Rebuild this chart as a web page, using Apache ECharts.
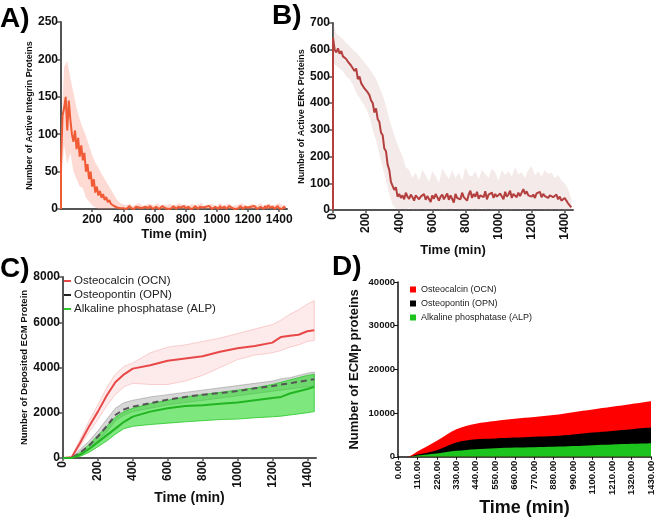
<!DOCTYPE html>
<html><head><meta charset="utf-8">
<script src="https://cdn.jsdelivr.net/npm/echarts@6/dist/echarts.min.js"></script>
<style>html,body{margin:0;padding:0;background:#fff}#c{width:656px;height:518px}</style>
</head><body><div id="c"></div>
<script>
// ---------- DATA ----------
// Panel A: active integrin (sampled every 10 min from 0 to 1440)
const integrinMean = [60,125,135,150,105,145,120,100,90,105,80,95,70,85,65,75,50,60,40,50,30,40,22,30,18,24,15,20,12,16,9,12,7,8,4,5,2,3,1,2,
1,3,0,2,4,1,2,0,3,1,2,4,1,0,3,2,1,4,2,0,1,3,2,0,1,4,2,1,3,0,2,1,4,2,0,3,1,2,0,4,1,2,3,0,2,1,4,2,0,3,
1,2,0,3,1,4,2,0,1,3,2,0,4,1,2,3,0,1,4,2,1,3,0,2,1,4,2,0,3,1,2,0,3,1,4,2,0,1,3,2,0,4,1,5,2,1,3,0,2,4,1,2,0,3,1];
// Panel A band (every 20 min)
const integrinHi = [90,190,198,175,155,135,120,108,98,85,72,62,55,47,40,33,26,19,12,8,6,
5,7,4,6,8,5,4,7,6,5,8,4,6,5,7,4,6,8,5,6,4,7,5,6,8,4,5,7,6,4,8,5,6,7,4,5,6,8,5,4,7,6,5,8,4,6,7,5,6,8,5,6];
const integrinLo = [30,85,60,75,50,40,30,28,15,10,5,2,0,0,0,0,0,0,0,0,0,
0,0,0,0,0,0,0,0,0,0,0,0,0,0,0,0,0,0,0,0,0,0,0,0,0,0,0,0,0,0,0,0,0,0,0,0,0,0,0,0,0,0,0,0,0,0,0,0,0,0,0,0];
// Panel B: active ERK (every 10 min)
const erkMean = [645,600,590,605,585,595,575,580,565,555,560,540,545,520,530,490,500,475,480,455,460,440,430,410,400,365,380,340,330,290,280,230,220,170,150,105,110,75,85,50,60,
45,55,40,65,50,42,58,48,35,55,62,40,50,45,60,38,52,47,30,55,42,60,48,35,50,58,40,45,62,38,
55,50,28,60,45,52,40,65,48,55,35,58,72,45,60,50,68,42,55,62,48,70,40,58,52,65,45,60,50,48,
62,55,40,68,50,58,72,45,60,55,48,65,52,58,78,60,70,55,62,50,58,45,62,55,68,48,60,52,58,45,
55,62,48,52,58,40,50,35,30,45,38,25,20,10];
// Panel B band (every 20 min)
const erkHi = [700,660,650,640,625,615,600,590,575,560,545,530,510,490,460,430,390,340,300,260,230,200,160,150,
120,140,110,150,130,105,145,125,100,155,135,115,150,120,140,110,160,130,125,145,115,150,135,120,155,140,110,150,130,145,
125,160,135,140,120,150,165,130,145,125,150,135,140,120,130,110,100,80,40];
const erkLo = [550,540,530,520,500,490,470,440,420,400,380,350,300,260,210,160,110,60,20,5,
0,5,0,8,0,3,0,6,0,4,0,7,0,2,0,5,0,8,0,3,0,6,0,4,0,9,0,5,0,2,0,7,0,3,0,6,0,8,0,4,0,5,0,7,0,3,0,6,0,4,0,2,0];
// Panel C: deposited ECM proteins
const cTimes = [0,50,100,150,200,250,300,350,400,500,600,700,800,900,1000,1100,1200,1250,1300,1350,1400,1440];
const ocnMean = [0,30,700,1400,2050,2750,3350,3700,3950,4100,4300,4400,4500,4700,4850,4950,5100,5350,5400,5450,5600,5650];
const ocnHi   = [0,60,850,1650,2350,3100,3700,4050,4200,4650,4900,5000,5150,5300,5500,5700,5900,6100,6350,6550,6800,6950];
const ocnLo   = [0,0,550,1150,1700,2300,2800,3150,3300,3250,3250,3400,3650,4000,4350,4550,4650,4750,4900,5000,5150,5200];
const opnMean = [0,0,250,550,950,1400,1900,2150,2270,2420,2580,2700,2800,2870,2960,3080,3180,3250,3300,3370,3430,3480];
const opnHi   = [0,0,400,750,1200,1700,2200,2450,2550,2700,2800,2900,3000,3100,3200,3300,3400,3500,3550,3650,3750,3800];
const opnLo   = [0,0,150,400,750,1150,1650,1900,2050,2200,2350,2450,2550,2650,2750,2850,2950,3000,3050,3100,3150,3200];
const alpMean = [0,0,150,400,700,1000,1300,1600,1830,2050,2200,2300,2330,2400,2450,2550,2650,2700,2850,2950,3050,3150];
const alpHi   = [0,0,250,600,1000,1400,1800,2050,2200,2400,2550,2700,2800,2900,3000,3100,3250,3350,3450,3550,3650,3700];
const alpLo   = [0,0,80,250,500,750,1050,1300,1400,1480,1540,1600,1650,1700,1720,1780,1820,1850,1900,1950,2000,2050];
// Panel D: stacked ECMp proteins (layer amounts)
const dTimes = [0,50,110,220,330,440,550,660,770,880,990,1100,1210,1320,1430];
const dAlp = [0,0,300,760,1360,1740,1950,2120,2200,2270,2450,2650,2800,2950,3100];
const dOpn = [0,0,200,755,1890,2260,2250,2270,2400,2500,2650,2880,3100,3350,3570];
const dOcn = [0,0,700,2125,3040,3580,4000,4320,4500,4775,5100,5300,5550,5800,6060];
const names = ['Osteocalcin (OCN)','Osteopontin (OPN)','Alkaline phosphatase (ALP)'];

// ---------- HELPERS ----------
const FONT = 'Liberation Sans, Arial, sans-serif';
const grid10 = integrinMean.map((_, i) => i * 10);
const grid20 = integrinHi.map((_, i) => i * 20);
const pairs = (t, v) => v.map((y, i) => [t[i], y]);
const plain = v => String(v);

// shaded band between lo and hi, drawn as one polygon through the axis scales
function bandSeries(id, t, lo, hi, xi, fill, edge) {
  return {
    type:'custom', name:id, xAxisIndex:xi, yAxisIndex:xi, silent:true, z:1,
    data:pairs(t, hi), encode:{x:0, y:1},
    renderItem:(params, api) => {
      if (params.dataIndex !== 0) return null;
      const up = t.map((x, i) => api.coord([x, hi[i]]));
      const dn = t.map((x, i) => api.coord([x, lo[i]])).reverse();
      return {
        type:'polygon', shape:{points:up.concat(dn)},
        style:{fill:fill, stroke:edge || null, lineWidth:edge ? 1 : 0},
        clipPath:{type:'rect', shape:{x:params.coordSys.x, y:params.coordSys.y,
                  width:params.coordSys.width, height:params.coordSys.height}}
      };
    }
  };
}
function cumulative(...layers) {
  return layers[0].map((_, i) => layers.reduce((s, l) => s + l[i], 0));
}
function xAx(gi, o) {
  return Object.assign({
    gridIndex:gi, type:'value', min:0, max:1450, interval:200,
    axisLine:{show:true, onZero:false, lineStyle:{color:'#555', width:2}},
    axisTick:{show:true, length:3, lineStyle:{color:'#555', width:1.5}},
    splitLine:{show:false},
    name:'Time (min)', nameLocation:'middle',
    nameTextStyle:{color:'#111', fontWeight:'bold', fontSize:13, fontFamily:FONT}
  }, o);
}
function yAx(gi, o) {
  return Object.assign({
    gridIndex:gi, type:'value',
    axisLine:{show:true, lineStyle:{color:'#555', width:2}},
    axisTick:{show:true, length:4, lineStyle:{color:'#555', width:1.5}},
    axisLabel:{color:'#111', fontWeight:'bold', fontSize:12, fontFamily:FONT, margin:3, formatter:plain},
    splitLine:{show:false}, nameLocation:'middle',
    nameTextStyle:{color:'#111', fontWeight:'bold', fontSize:9, fontFamily:FONT}
  }, o);
}

const dTotalOpn = cumulative(dAlp, dOpn);
const dTotalOcn = cumulative(dAlp, dOpn, dOcn);

const chart = echarts.init(document.getElementById('c'), null, {renderer:'canvas'});
const series = [
  // A
  bandSeries('bA', grid20, integrinLo, integrinHi, 0, 'rgba(248,150,130,0.35)'),
  {type:'line', name:'Integrin', xAxisIndex:0, yAxisIndex:0, data:[[0,0], ...pairs(grid10, integrinMean)], symbol:'none',
   lineStyle:{color:'#f05a35', width:2}, z:3},
  // B
  bandSeries('bB', grid20, erkLo, erkHi, 1, 'rgba(205,160,160,0.22)'),
  {type:'line', name:'ERK', xAxisIndex:1, yAxisIndex:1, data:[[0,0], ...pairs(grid10, erkMean)], symbol:'none',
   lineStyle:{color:'#b3403f', width:2}, z:3},
  // C bands
  bandSeries('bOCN', cTimes, ocnLo, ocnHi, 2, 'rgba(240,120,120,0.15)', 'rgba(240,130,130,0.35)'),
  bandSeries('bOPN', cTimes, opnLo, opnHi, 2, 'rgba(140,140,140,0.35)', 'rgba(140,140,140,0.5)'),
  bandSeries('bALP', cTimes, alpLo, alpHi, 2, 'rgba(40,215,40,0.6)', 'rgba(40,200,40,0.8)'),
  // C lines
  {type:'line', name:names[0], xAxisIndex:2, yAxisIndex:2, data:pairs(cTimes, ocnMean), symbol:'none', color:'#e84848',
   lineStyle:{color:'#e84848', width:2}, z:4},
  {type:'line', name:names[1], xAxisIndex:2, yAxisIndex:2, data:pairs(cTimes, opnMean), symbol:'none', color:'#222',
   lineStyle:{color:'#555', width:2, type:[6,4]}, z:4},
  {type:'line', name:names[2], xAxisIndex:2, yAxisIndex:2, data:pairs(cTimes, alpMean), symbol:'none', color:'#2cc82c',
   lineStyle:{color:'#22b422', width:2}, z:4},
  // D stacked (cumulative tops, drawn back to front)
  {type:'line', name:names[0]+' ', xAxisIndex:3, yAxisIndex:3, data:pairs(dTimes, dTotalOcn), symbol:'none', smooth:0.35,
   color:'#ff0000', lineStyle:{width:0}, areaStyle:{color:'#ff0000', opacity:1}, z:2},
  {type:'line', name:names[1]+' ', xAxisIndex:3, yAxisIndex:3, data:pairs(dTimes, dTotalOpn), symbol:'none', smooth:0.35,
   color:'#000', lineStyle:{width:0}, areaStyle:{color:'#000', opacity:1}, z:3},
  {type:'line', name:names[2]+' ', xAxisIndex:3, yAxisIndex:3, data:pairs(dTimes, dAlp), symbol:'none', smooth:0.35,
   color:'#1ec41e', lineStyle:{width:0}, areaStyle:{color:'#1ec41e', opacity:1}, z:4}
];

const xLab = (o) => Object.assign({color:'#111', fontWeight:'bold', fontSize:12, fontFamily:FONT, margin:4,
                                   showMaxLabel:false, formatter:plain}, o);

chart.setOption({
  animation:false,
  backgroundColor:'#fff',
  textStyle:{fontFamily:FONT},
  grid:[
    {left:61, top:22, width:226, height:187},
    {left:333, top:23, width:240, height:187},
    {left:63, top:277, width:253, height:181},
    {left:398, top:282, width:254, height:176}
  ],
  xAxis:[
    xAx(0, {nameGap:19, axisLabel:xLab({margin:5, showMinLabel:false})}),
    xAx(1, {nameGap:30, axisLabel:xLab({margin:3, rotate:90})}),
    xAx(2, {nameGap:28, nameTextStyle:{color:'#111', fontWeight:'bold', fontSize:14, fontFamily:FONT},
            axisLabel:xLab({margin:3, rotate:90})}),
    xAx(3, {max:1430, interval:110, nameGap:40,
            axisLine:{show:true, onZero:false, lineStyle:{color:'#111', width:1.5}},
            axisTick:{show:true, length:3, lineStyle:{color:'#111', width:1}},
            nameTextStyle:{color:'#111', fontWeight:'bold', fontSize:18, fontFamily:FONT},
            axisLabel:xLab({fontSize:9.5, margin:4, rotate:90, showMaxLabel:true, formatter:v => v.toFixed(2)})})
  ],
  yAxis:[
    yAx(0, {min:0, max:250, interval:50, name:'Number of Active Integrin Proteins', nameGap:21}),
    yAx(1, {min:0, max:700, interval:100, name:'Number of Active ERK Proteins', nameGap:26}),
    yAx(2, {min:0, max:8000, interval:2000, name:'Number of Deposited ECM Protein', nameGap:27,
            nameTextStyle:{color:'#111', fontWeight:'bold', fontSize:9.5, fontFamily:FONT}}),
    yAx(3, {min:0, max:40000, interval:10000, name:'Number of ECMp proteins', nameGap:37,
            axisLine:{show:true, lineStyle:{color:'#111', width:1.5}},
            axisTick:{show:true, length:4, lineStyle:{color:'#111', width:1}},
            axisLabel:{color:'#111', fontWeight:'bold', fontSize:9.5, fontFamily:FONT, margin:3, formatter:plain},
            nameTextStyle:{color:'#111', fontWeight:'bold', fontSize:13, fontFamily:FONT}})
  ],
  legend:[
    {data:names, left:59, top:270, orient:'vertical', icon:'rect', itemWidth:7, itemHeight:2, itemGap:2,
     textStyle:{fontSize:11.5, color:'#222', fontFamily:FONT, padding:[0,0,0,-2]}, selectedMode:false},
    {data:names.map(n => n + ' '), left:405, top:280, orient:'vertical', icon:'rect', itemWidth:6, itemHeight:6, itemGap:5,
     textStyle:{fontSize:9, color:'#222', fontFamily:FONT}, selectedMode:false, formatter:n => n.trim()}
  ],
  graphic:[
    {type:'text', left:0, top:5, style:{text:'A)', font:'bold 28px '+FONT, fill:'#000'}},
    {type:'text', left:272, top:2, style:{text:'B)', font:'bold 28px '+FONT, fill:'#000'}},
    {type:'text', left:0, top:255, style:{text:'C)', font:'bold 28px '+FONT, fill:'#000'}},
    {type:'text', left:332, top:253, style:{text:'D)', font:'bold 28px '+FONT, fill:'#000'}}
  ],
  series:series
});
</script></body></html>
